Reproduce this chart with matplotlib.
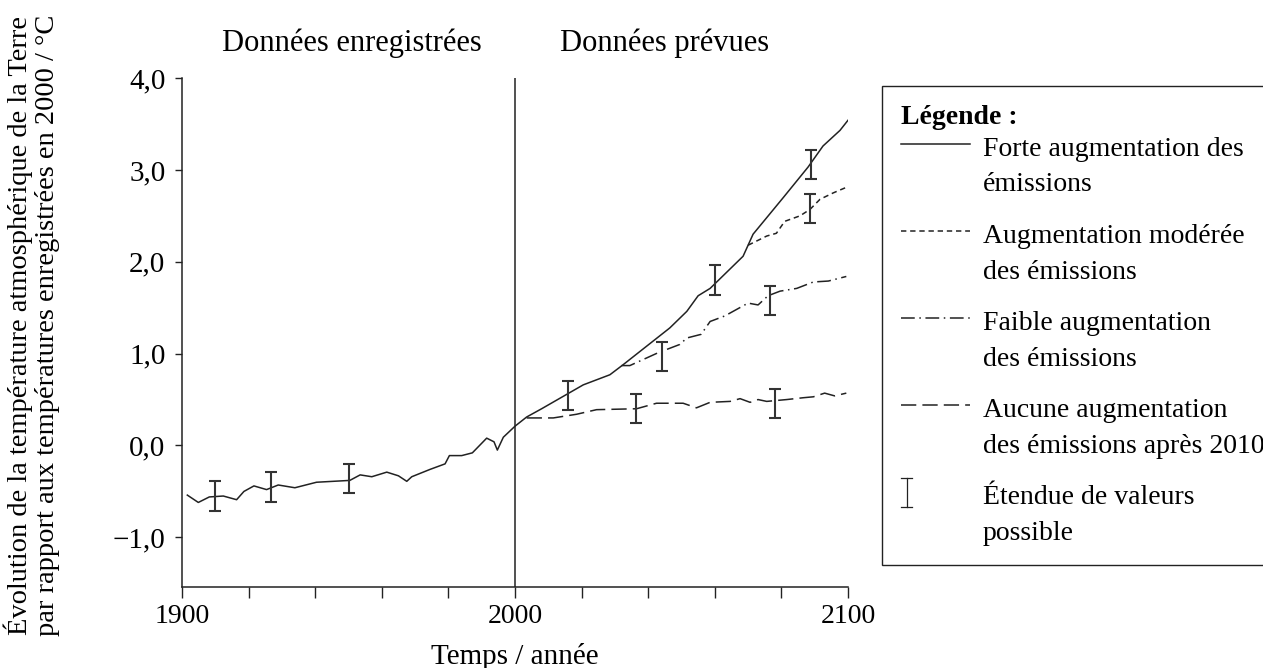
"""Évolution de la température atmosphérique : données enregistrées et prévues."""
import matplotlib
matplotlib.use("Agg")
import matplotlib.pyplot as plt
from matplotlib.lines import Line2D
from matplotlib.legend_handler import HandlerLine2D, HandlerBase

# données enregistrées
obs_years = [1901.6, 1904.9, 1908.2, 1912.4, 1916.4, 1918.6, 1921.6, 1925.4, 1928.9,
             1933.9, 1940.4, 1945.4, 1950.4, 1953.5, 1957.0, 1961.5, 1965.0, 1967.5,
             1969.0, 1974.5, 1979.0, 1980.3, 1984.0, 1987.2, 1991.5, 1993.7, 1994.7,
             1996.5, 2000.0]
obs_temp = [-0.54, -0.62, -0.56, -0.55, -0.59, -0.50, -0.44, -0.48, -0.43,
            -0.46, -0.40, -0.39, -0.38, -0.32, -0.34, -0.29, -0.33, -0.39,
            -0.34, -0.26, -0.20, -0.11, -0.11, -0.08, 0.08, 0.04, -0.05,
            0.09, 0.21]

# scénarios
forte_years = [2000.0, 2003.5, 2008.0, 2020.5, 2028.5, 2032.5, 2046.5, 2051.6, 2055.0,
               2058.6, 2068.5, 2071.5, 2080.6, 2088.0, 2092.5, 2097.6, 2100.0]
forte_temp = [0.21, 0.31, 0.40, 0.66, 0.77, 0.88, 1.28, 1.46, 1.63,
              1.71, 2.06, 2.30, 2.70, 3.03, 3.26, 3.43, 3.54]

moderee_years = [2070.0, 2075.6, 2078.5, 2081.0, 2085.6, 2088.6, 2091.6, 2095.6, 2099.5]
moderee_temp = [2.18, 2.28, 2.31, 2.44, 2.50, 2.57, 2.68, 2.75, 2.81]

faible_years = [2032.0, 2034.5, 2043.0, 2049.5, 2051.6, 2055.9, 2058.6, 2063.0, 2070.0,
                2073.0, 2076.0, 2079.6, 2084.6, 2089.6, 2094.1, 2099.5]
faible_temp = [0.87, 0.87, 1.01, 1.10, 1.17, 1.21, 1.35, 1.41, 1.55,
               1.53, 1.63, 1.68, 1.71, 1.78, 1.79, 1.84]

aucune_years = [2003.5, 2011.5, 2018.5, 2024.5, 2036.5, 2042.5, 2050.5, 2054.5, 2058.6,
                2064.6, 2067.6, 2070.6, 2073.0, 2075.6, 2081.6, 2086.6, 2089.6, 2093.0,
                2096.0, 2099.5]
aucune_temp = [0.30, 0.30, 0.34, 0.39, 0.40, 0.46, 0.46, 0.41, 0.47,
               0.48, 0.51, 0.47, 0.50, 0.48, 0.50, 0.52, 0.53, 0.57,
               0.54, 0.57]

# étendue de valeurs possible
err_years = [1910.0, 1926.6, 1950.2, 2016.0, 2036.3, 2044.2, 2060.0, 2076.6, 2078.0,
             2089.0, 2088.6]
err_low = [-0.71, -0.61, -0.52, 0.39, 0.24, 0.81, 1.64, 1.42, 0.30, 2.90, 2.42]
err_high = [-0.39, -0.29, -0.20, 0.70, 0.56, 1.13, 1.96, 1.74, 0.62, 3.22, 2.74]

labels = [
    "Forte augmentation des\némissions",
    "Augmentation modérée\ndes émissions",
    "Faible augmentation\ndes émissions",
    "Aucune augmentation\ndes émissions après 2010",
    "Étendue de valeurs\npossible",
]

INK = "#222222"
FS = 20      # graduations
LFS = 20     # légende
LSP = 1.57   # interligne de la légende
plt.rcParams["font.family"] = ["Liberation Serif", "DejaVu Serif"]
plt.rcParams["font.size"] = FS


class FirstLine(HandlerLine2D):
    """Aligne le symbole sur la première ligne du libellé."""

    def __init__(self, shift, **kw):
        super().__init__(**kw)
        self.shift = shift

    def create_artists(self, legend, orig_handle, xdescent, ydescent,
                       width, height, fontsize, trans):
        arts = super().create_artists(legend, orig_handle, xdescent, ydescent,
                                      width, height, fontsize, trans)
        for a in arts:
            a.set_ydata([y + self.shift for y in a.get_ydata()])
        return arts


class RangeMark(HandlerBase):
    def __init__(self, shift):
        super().__init__()
        self.shift = shift

    def create_artists(self, legend, orig_handle, xdescent, ydescent,
                       width, height, fontsize, trans):
        x = -xdescent + 0.09 * width
        yc = -ydescent + height / 2 + self.shift
        h = 1.05 * fontsize
        c = 0.16 * width
        kw = dict(color=INK, lw=0.9, transform=trans)
        return [Line2D([x, x], [yc - h / 2, yc + h / 2], **kw),
                Line2D([x - c / 2, x + c / 2], [yc + h / 2, yc + h / 2], **kw),
                Line2D([x - c / 2, x + c / 2], [yc - h / 2, yc - h / 2], **kw)]


fig = plt.figure(figsize=(12.63, 6.68), dpi=100)
ax = fig.add_axes([0.1441, 0.1213, 0.5273, 0.7619])

ln_forte, = ax.plot(obs_years + forte_years[1:], obs_temp + forte_temp[1:],
                    color=INK, lw=1.1)
ln_mod, = ax.plot(moderee_years, moderee_temp, color=INK, lw=1.1,
                  dashes=(3.5, 2.5))
ln_faible, = ax.plot(faible_years, faible_temp, color=INK, lw=1.1,
                     dashes=(9, 3, 1, 3))
ln_aucune, = ax.plot(aucune_years, aucune_temp, color=INK, lw=1.1,
                     dashes=(10, 4))

centre = [(lo + hi) / 2 for lo, hi in zip(err_low, err_high)]
demi = [(hi - lo) / 2 for lo, hi in zip(err_low, err_high)]
ebar = ax.errorbar(err_years, centre, yerr=demi, fmt="none", ecolor="#333333",
                   elinewidth=1.5, capsize=4, capthick=1.5)

ax.axvline(2000, color=INK, lw=1.1)

ax.set_xlim(1900, 2100)
ax.set_ylim(-1.54, 4.0)
ax.spines["top"].set_visible(False)
ax.spines["right"].set_visible(False)
for s in ("left", "bottom"):
    ax.spines[s].set_color(INK)
    ax.spines[s].set_linewidth(1.1)

ax.set_xticks([1900, 2000, 2100])
ax.set_xticks(list(range(1900, 2101, 20)), minor=True)
ax.set_yticks([-1.0, 0.0, 1.0, 2.0, 3.0, 4.0])
ax.set_yticklabels(["\u22121,0", "0,0", "1,0", "2,0", "3,0", "4,0"])
ax.tick_params(axis="x", which="both", length=8, width=1.0, color=INK,
               labelsize=FS, pad=4)
ax.tick_params(axis="y", length=5, width=1.0, color=INK, labelsize=21, pad=7)

ax.set_xlabel("Temps / année", fontsize=21, labelpad=10)
fig.text(0.025, 0.513, "Évolution de la température atmosphérique de la Terre\n"
         "par rapport aux températures enregistrées en 2000 / °C",
         rotation=90, ha="center", va="center", fontsize=20.5, linespacing=1.1)

fig.text(352 / 1263, 1 - 43 / 668, "Données enregistrées", ha="center",
         va="center", fontsize=22)
fig.text(665 / 1263, 1 - 43 / 668, "Données prévues", ha="center",
         va="center", fontsize=22)

shift = 0.5 * LSP * LFS + 1
handles = [ln_forte, ln_mod, ln_faible, ln_aucune, ebar]
leg = fig.legend(
    handles, labels,
    loc="upper left", bbox_to_anchor=(882 / 1263, 1 - 86 / 668),
    frameon=True, fancybox=False, edgecolor=INK, framealpha=1,
    fontsize=LFS,
    title="Légende :", title_fontproperties={"weight": "bold", "size": LFS},
    alignment="left", handlelength=2.5, handletextpad=0.45,
    labelspacing=0.95, borderpad=0.67, borderaxespad=0,
    handler_map={ln_forte: FirstLine(shift), ln_mod: FirstLine(shift),
                 ln_faible: FirstLine(shift), ln_aucune: FirstLine(shift),
                 ebar: RangeMark(shift)},
)
for t in leg.get_texts():
    t.set_linespacing(LSP)
# rapprocher le titre de la première entrée
leg._legend_box.sep = 5
leg.get_frame().set_linewidth(1.0)

fig.savefig("out.png", dpi=100)
